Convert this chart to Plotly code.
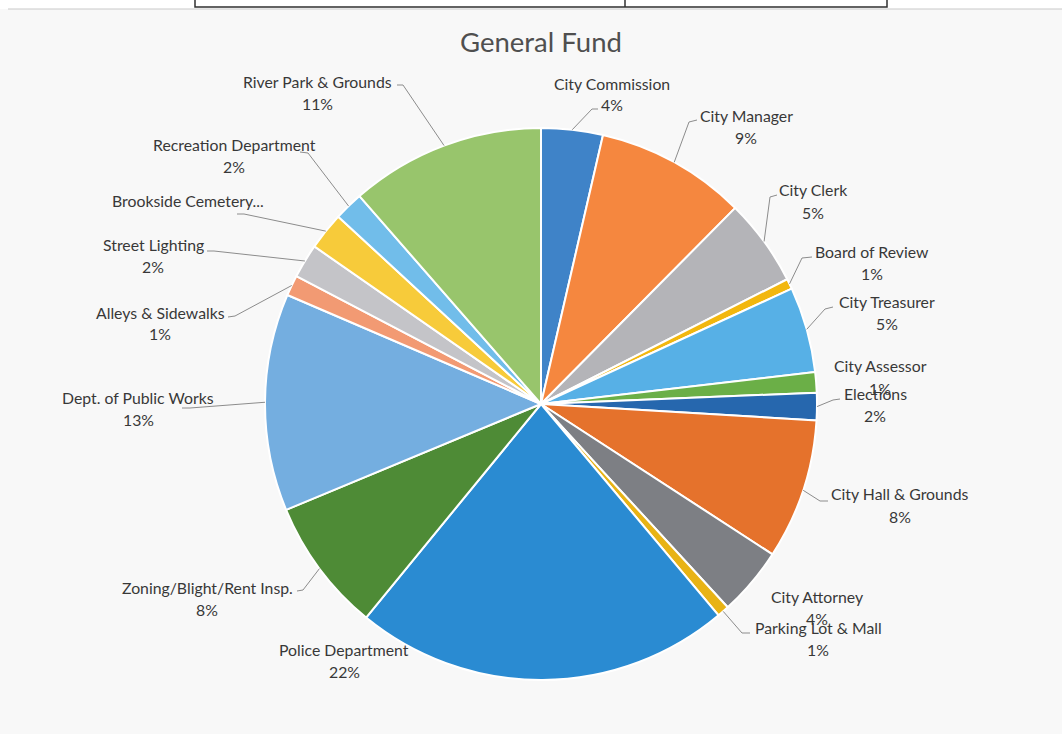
import math
import plotly.graph_objects as go

# ---------------- data ----------------
categories = [
    "City Commission", "City Manager", "City Clerk", "Board of Review",
    "City Treasurer", "City Assessor", "Elections", "City Hall & Grounds",
    "City Attorney", "Parking Lot & Mall", "Police Department",
    "Zoning/Blight/Rent Insp.", "Dept. of Public Works", "Alleys & Sidewalks",
    "Street Lighting", "Brookside Cemetery", "Recreation Department",
    "River Park & Grounds",
]
values = [3.6, 8.8, 5.1, 0.6, 5.0, 1.2, 1.6, 8.2, 4.0, 0.7, 22.0, 7.8,
          12.7, 1.2, 2.0, 2.2, 1.7, 11.4]
label_names = [
    "City Commission", "City Manager", "City Clerk", "Board of Review",
    "City Treasurer", "City Assessor", "Elections", "City Hall & Grounds",
    "City Attorney", "Parking Lot & Mall", "Police Department",
    "Zoning/Blight/Rent Insp.", "Dept. of Public Works", "Alleys & Sidewalks",
    "Street Lighting", "Brookside Cemetery...", "Recreation Department",
    "River Park & Grounds",
]
show_pct = [True] * 15 + [False, True, True]
title_text = "General Fund"

# ---------------- style / layout ----------------
colors = ["#3F83C8", "#F5873F", "#B4B4B8", "#F2B70F", "#57B0E6", "#6BAF47",
          "#2667AE", "#E5722C", "#7D7F84", "#E8B315", "#2A8BD2", "#4E8B36",
          "#74AEE0", "#F29A73", "#C4C4C8", "#F7CB3A", "#71BDEA", "#98C56C"]
W, H = 1062, 734
CX, CY, R = 541, 404, 276
# label (first line) centre, pixel coords
label_xy = [(612, 83), (746, 115), (813, 190), (872, 251), (887, 301),
            (880, 366), (875, 393), (900, 494), (817, 596), (818, 627),
            (344, 649), (207, 587), (138, 397), (160, 312), (153, 244),
            (188, 200), (234, 144), (317, 81)]
# leader points starting at the label side (pie edge point is appended)
leaders = [
    [(598, 109), (592, 109)], [(697, 120), (689, 122)], [(777, 195), (770, 197)],
    [(812, 257), (802, 258)], [(833, 307), (825, 309)], None,
    [(840, 399), (833, 400)], [(828, 501), (820, 501)], None,
    [(750, 633), (742, 633)], None, [(297, 591), (303, 590)],
    [(182, 408), (190, 408)], [(228, 317), (235, 316)], [(207, 251), (214, 251)],
    [(237, 214), (244, 214)], [(300, 152), (308, 153)], [(397, 85), (403, 85)],
]
LINE_GAP = 22
FONT = "Lato, 'Open Sans', sans-serif"
LABEL_SIZE = 15.8
TEXT_COLOR = "#383838"


def px(x):
    return x / W


def py(y):
    return 1 - y / H


total = sum(values)

fig = go.Figure(go.Pie(
    labels=categories, values=values, sort=False, direction="clockwise",
    rotation=0, textinfo="none", hoverinfo="label+percent",
    marker=dict(colors=colors, line=dict(color="white", width=2)),
    domain=dict(x=[px(CX - R), px(CX + R)], y=[py(CY + R), py(CY - R)]),
    showlegend=False,
))

annotations = []
shapes = []
cum = 0.0
for i, v in enumerate(values):
    mid = (cum + v / 2) / total * 2 * math.pi
    cum += v
    ex = CX + R * math.sin(mid)
    ey = CY - R * math.cos(mid)
    lx, ly = label_xy[i]
    annotations.append(dict(x=px(lx), y=py(ly), xref="paper", yref="paper",
                            text=label_names[i], showarrow=False,
                            xanchor="center", yanchor="middle",
                            font=dict(family=FONT, size=LABEL_SIZE, color=TEXT_COLOR)))
    if show_pct[i]:
        pct = int(v / total * 100 + 0.5)
        annotations.append(dict(x=px(lx), y=py(ly + LINE_GAP), xref="paper",
                                yref="paper", text=f"{pct}%", showarrow=False,
                                xanchor="center", yanchor="middle",
                                font=dict(family=FONT, size=LABEL_SIZE, color=TEXT_COLOR)))
    if leaders[i]:
        pts = leaders[i] + [(ex, ey)]
        path = "M " + " L ".join(f"{px(x)},{py(y)}" for x, y in pts)
        shapes.append(dict(type="path", path=path, xref="paper", yref="paper",
                           line=dict(color="#8C8C8C", width=1)))

# title
annotations.append(dict(x=px(541), y=py(42), xref="paper", yref="paper",
                        text=title_text, showarrow=False, xanchor="center",
                        yanchor="middle",
                        font=dict(family=FONT, size=27.5, color="#4F4F4F")))

# scanned page decorations: white strip and table fragment at top
shapes.insert(0, dict(type="rect", xref="paper", yref="paper", layer="below",
                      x0=0, x1=1, y0=py(9), y1=1, fillcolor="white",
                      line=dict(width=0)))
shapes.append(dict(type="line", xref="paper", yref="paper", x0=px(8), x1=1,
                   y0=py(9), y1=py(9), line=dict(color="#C8C8C8", width=1)))
shapes.append(dict(type="path", xref="paper", yref="paper",
                   path=f"M {px(195)},1 L {px(195)},{py(7)} L {px(887)},{py(7)} L {px(887)},1",
                   line=dict(color="#303030", width=1.5)))
shapes.append(dict(type="line", xref="paper", yref="paper", x0=px(625), x1=px(625),
                   y0=py(7), y1=1, line=dict(color="#303030", width=1.5)))

fig.update_layout(
    width=W, height=H, margin=dict(l=0, r=0, t=0, b=0),
    paper_bgcolor="#F8F8F8", plot_bgcolor="#F8F8F8",
    annotations=annotations, shapes=shapes,
)
fig.write_html("out.html")
